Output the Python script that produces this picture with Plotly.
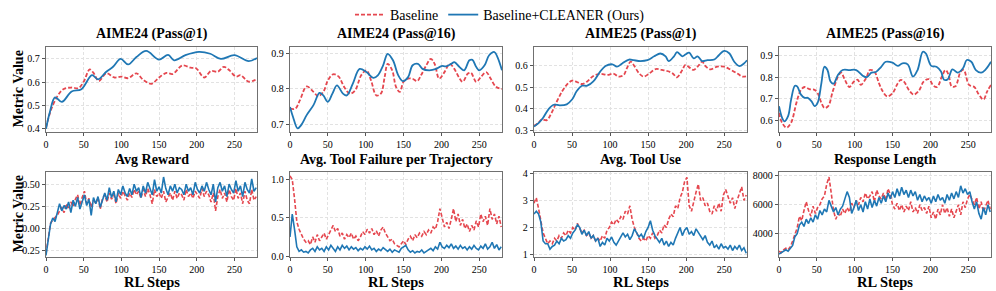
import plotly.graph_objects as go

# ---------------- DATA ----------------
# Top row: evaluation curves (smooth), (step, value) pairs
a24p1_base_x = [0, 6, 15, 23, 34, 43, 50, 58, 63, 70, 80, 91, 100, 109, 120, 129, 140, 150, 160, 168, 181, 192, 199, 210, 219, 228, 236, 243, 252, 258, 269, 280]
a24p1_base_y = [0.404, 0.475, 0.539, 0.57, 0.577, 0.574, 0.602, 0.655, 0.64, 0.605, 0.638, 0.62, 0.624, 0.617, 0.638, 0.61, 0.593, 0.62, 0.64, 0.635, 0.672, 0.662, 0.66, 0.62, 0.648, 0.645, 0.666, 0.652, 0.624, 0.63, 0.602, 0.614]
a24p1_ours_x = [0, 5, 12, 21, 34, 47, 61, 69, 80, 89, 99, 109, 120, 133, 150, 162, 170, 185, 203, 218, 232, 250, 269, 280]
a24p1_ours_y = [0.40, 0.47, 0.535, 0.515, 0.56, 0.57, 0.63, 0.612, 0.645, 0.666, 0.70, 0.676, 0.708, 0.734, 0.697, 0.717, 0.694, 0.716, 0.73, 0.722, 0.70, 0.716, 0.69, 0.704]

a24p16_base_x = [0, 7, 13, 22, 31, 37, 44, 50, 57, 64, 72, 79, 86, 94, 101, 107, 114, 120, 125, 129, 135, 140, 145, 150, 156, 162, 168, 173, 180, 186, 191, 197, 204, 211, 217, 223, 228, 235, 239, 246, 252, 259, 265, 272, 280]
a24p16_base_y = [0.745, 0.745, 0.768, 0.807, 0.792, 0.78, 0.792, 0.824, 0.841, 0.835, 0.804, 0.787, 0.796, 0.838, 0.852, 0.824, 0.782, 0.787, 0.833, 0.87, 0.852, 0.806, 0.792, 0.82, 0.829, 0.828, 0.822, 0.838, 0.866, 0.884, 0.87, 0.829, 0.847, 0.87, 0.856, 0.833, 0.82, 0.843, 0.845, 0.82, 0.833, 0.847, 0.829, 0.806, 0.80]
a24p16_ours_x = [0, 4, 10, 15, 22, 31, 39, 44, 50, 56, 62, 70, 75, 83, 92, 101, 110, 116, 123, 129, 136, 143, 149, 156, 162, 169, 175, 184, 193, 200, 206, 213, 217, 224, 230, 237, 241, 246, 250, 257, 263, 270, 274, 280]
a24p16_ours_y = [0.75, 0.722, 0.69, 0.70, 0.727, 0.755, 0.789, 0.782, 0.764, 0.787, 0.81, 0.787, 0.782, 0.815, 0.856, 0.847, 0.831, 0.838, 0.866, 0.898, 0.88, 0.838, 0.822, 0.833, 0.866, 0.87, 0.856, 0.852, 0.856, 0.864, 0.863, 0.87, 0.875, 0.861, 0.852, 0.88, 0.881, 0.861, 0.852, 0.866, 0.894, 0.903, 0.889, 0.852]

a25p1_base_x = [0, 6, 10, 17, 23, 30, 37, 43, 50, 56, 63, 70, 78, 87, 96, 105, 111, 118, 122, 127, 131, 138, 144, 151, 160, 168, 175, 182, 188, 195, 199, 206, 210, 217, 221, 226, 232, 241, 250, 259, 268, 274, 280]
a25p1_base_y = [0.32, 0.335, 0.35, 0.347, 0.38, 0.433, 0.48, 0.51, 0.529, 0.524, 0.514, 0.526, 0.551, 0.561, 0.556, 0.561, 0.548, 0.556, 0.586, 0.617, 0.602, 0.564, 0.548, 0.561, 0.583, 0.579, 0.574, 0.564, 0.545, 0.579, 0.602, 0.586, 0.579, 0.602, 0.617, 0.594, 0.582, 0.594, 0.594, 0.579, 0.561, 0.548, 0.551]
a25p1_ours_x = [0, 6, 12, 19, 26, 34, 43, 50, 56, 63, 70, 78, 87, 94, 103, 109, 116, 125, 131, 140, 149, 158, 166, 173, 177, 184, 188, 195, 199, 204, 210, 215, 221, 228, 237, 243, 250, 257, 263, 270, 276, 280]
a25p1_ours_y = [0.317, 0.333, 0.358, 0.397, 0.418, 0.415, 0.42, 0.442, 0.48, 0.506, 0.506, 0.526, 0.571, 0.597, 0.605, 0.594, 0.609, 0.627, 0.624, 0.62, 0.624, 0.642, 0.655, 0.642, 0.62, 0.642, 0.661, 0.642, 0.65, 0.659, 0.632, 0.642, 0.62, 0.624, 0.627, 0.647, 0.667, 0.655, 0.618, 0.597, 0.609, 0.624]

a25p16_base_x = [0, 4, 10, 16, 23, 29, 34, 40, 47, 51, 56, 60, 65, 71, 78, 82, 87, 93, 99, 104, 108, 115, 120, 126, 132, 137, 143, 150, 157, 161, 165, 172, 178, 185, 191, 198, 204, 209, 215, 220, 224, 228, 233, 240, 244, 251, 258, 264, 270, 275, 280]
a25p16_base_y = [0.636, 0.591, 0.568, 0.591, 0.682, 0.742, 0.755, 0.745, 0.742, 0.727, 0.682, 0.659, 0.667, 0.735, 0.803, 0.821, 0.788, 0.755, 0.78, 0.788, 0.765, 0.795, 0.833, 0.826, 0.773, 0.735, 0.712, 0.727, 0.773, 0.788, 0.78, 0.739, 0.72, 0.739, 0.78, 0.791, 0.761, 0.755, 0.803, 0.833, 0.811, 0.758, 0.758, 0.826, 0.833, 0.765, 0.755, 0.72, 0.697, 0.735, 0.765]
a25p16_ours_x = [0, 4, 7, 12, 16, 21, 24, 29, 34, 38, 43, 47, 51, 56, 60, 64, 68, 72, 78, 84, 93, 102, 111, 116, 122, 128, 135, 141, 150, 157, 163, 170, 177, 183, 190, 194, 201, 208, 214, 218, 223, 229, 236, 243, 248, 254, 260, 267, 273, 280]
a25p16_ours_y = [0.667, 0.614, 0.597, 0.621, 0.697, 0.761, 0.758, 0.72, 0.705, 0.705, 0.689, 0.667, 0.682, 0.773, 0.848, 0.833, 0.78, 0.77, 0.811, 0.833, 0.833, 0.833, 0.806, 0.80, 0.821, 0.824, 0.848, 0.871, 0.867, 0.852, 0.864, 0.859, 0.803, 0.833, 0.917, 0.909, 0.852, 0.848, 0.826, 0.788, 0.791, 0.836, 0.821, 0.841, 0.879, 0.871, 0.833, 0.821, 0.836, 0.871]

# Bottom row: training curves, one value every 3 RL steps (0, 3, ..., 279)
reward_base = [-0.28, -0.12, 0.06, 0.10, 0.12, 0.15, 0.20, 0.24, 0.18, 0.28, 0.22, 0.30, 0.25, 0.33, 0.38, 0.26, 0.35, 0.42, 0.28, 0.34,
               0.24, 0.32, 0.28, 0.35, 0.22, 0.34, 0.38, 0.30, 0.40, 0.33, 0.38, 0.28, 0.40, 0.34, 0.42, 0.36, 0.32, 0.40, 0.35, 0.44,
               0.38, 0.42, 0.34, 0.44, 0.36, 0.45, 0.38, 0.28, 0.44, 0.36, 0.40, 0.34, 0.42, 0.30, 0.36, 0.40, 0.32, 0.42, 0.34, 0.40,
               0.38, 0.32, 0.44, 0.36, 0.40, 0.34, 0.42, 0.38, 0.34, 0.45, 0.36, 0.42, 0.38, 0.30, 0.40, 0.20, 0.36, 0.44, 0.34, 0.40,
               0.30, 0.44, 0.36, 0.32, 0.45, 0.34, 0.40, 0.28, 0.42, 0.32, 0.28, 0.44, 0.32, 0.36]
reward_ours = [-0.30, -0.15, 0.05, 0.12, 0.08, 0.18, 0.28, 0.20, 0.26, 0.22, 0.30, 0.18, 0.32, 0.25, 0.35, 0.22, 0.30, 0.38, 0.26, 0.33,
               0.15, 0.35, 0.28, 0.36, 0.24, 0.33, 0.40, 0.32, 0.46, 0.35, 0.42, 0.30, 0.44, 0.38, 0.48, 0.40, 0.36, 0.45, 0.38, 0.50,
               0.42, 0.46, 0.35, 0.48, 0.40, 0.52, 0.44, 0.38, 0.55, 0.42, 0.47, 0.40, 0.58, 0.45, 0.38, 0.48, 0.42, 0.50, 0.40, 0.46,
               0.44, 0.38, 0.50, 0.42, 0.46, 0.38, 0.52, 0.44, 0.40, 0.48, 0.42, 0.52, 0.44, 0.38, 0.50, 0.30, 0.46, 0.52, 0.42, 0.48,
               0.36, 0.50, 0.44, 0.40, 0.54, 0.42, 0.48, 0.36, 0.52, 0.44, 0.40, 0.56, 0.42, 0.46]

fail_base = [1.05, 1.00, 0.75, 0.45, 0.35, 0.28, 0.22, 0.18, 0.20, 0.15, 0.25, 0.18, 0.28, 0.20, 0.26, 0.30, 0.22, 0.28, 0.34, 0.40,
             0.32, 0.36, 0.26, 0.30, 0.22, 0.28, 0.24, 0.30, 0.22, 0.26, 0.20, 0.25, 0.32, 0.28, 0.35, 0.30, 0.36, 0.28, 0.33, 0.26,
             0.34, 0.38, 0.30, 0.25, 0.20, 0.22, 0.16, 0.14, 0.12, 0.16, 0.20, 0.15, 0.22, 0.26, 0.20, 0.28, 0.24, 0.30, 0.26, 0.32,
             0.28, 0.34, 0.30, 0.38, 0.35, 0.45, 0.62, 0.50, 0.38, 0.44, 0.36, 0.48, 0.62, 0.45, 0.55, 0.40, 0.48, 0.36, 0.42, 0.32,
             0.40, 0.34, 0.46, 0.38, 0.55, 0.45, 0.52, 0.40, 0.62, 0.48, 0.55, 0.42, 0.52, 0.38]
fail_ours = [0.25, 0.55, 0.35, 0.12, 0.06, 0.08, 0.05, 0.06, 0.04, 0.08, 0.10, 0.06, 0.12, 0.08, 0.10, 0.06, 0.12, 0.08, 0.14, 0.10,
             0.06, 0.12, 0.08, 0.14, 0.10, 0.13, 0.08, 0.12, 0.09, 0.11, 0.07, 0.10, 0.08, 0.12, 0.09, 0.13, 0.08, 0.10, 0.06, 0.09,
             0.07, 0.11, 0.08, 0.06, 0.09, 0.05, 0.08, 0.06, 0.05, 0.10, 0.12, 0.14, 0.08, 0.05, 0.07, 0.04, 0.06, 0.05, 0.08, 0.04,
             0.06, 0.08, 0.10, 0.07, 0.12, 0.09, 0.18, 0.12, 0.10, 0.14, 0.11, 0.16, 0.10, 0.13, 0.09, 0.14, 0.10, 0.12, 0.08, 0.12,
             0.09, 0.14, 0.10, 0.08, 0.13, 0.10, 0.16, 0.09, 0.12, 0.18, 0.10, 0.15, 0.08, 0.12]

tool_base = [2.9, 3.1, 2.7, 2.2, 1.8, 1.6, 1.4, 1.5, 1.4, 1.6, 1.5, 1.7, 1.6, 1.8, 1.7, 1.9, 1.8, 2.0, 1.9, 2.15,
             2.0, 1.8, 1.9, 1.7, 1.8, 1.6, 1.7, 1.5, 1.6, 1.5, 1.7, 1.6, 1.9, 2.0, 2.2, 2.1, 2.3, 2.2, 2.4, 2.3,
             2.6, 2.5, 2.8, 2.3, 2.0, 1.8, 1.6, 1.5, 1.6, 1.5, 1.7, 1.6, 1.8, 1.6, 1.7, 1.9, 1.8, 2.1, 2.0, 2.3,
             2.5, 2.4, 2.8, 2.7, 3.1, 3.3, 3.7, 3.85, 2.8, 2.6, 3.0, 3.3, 3.6, 3.0, 3.1, 2.8, 2.9, 2.6, 2.5, 2.8,
             2.6, 2.9, 2.6, 3.2, 3.4, 3.1, 2.9, 3.1, 2.7, 3.0, 3.3, 3.5, 3.0, 3.2]
tool_ours = [2.5, 2.6, 2.5, 2.2, 1.5, 1.4, 1.4, 1.2, 1.3, 1.35, 1.5, 1.4, 1.6, 1.5, 1.55, 1.7, 1.6, 1.8, 1.9, 2.1,
             2.0, 1.75, 1.9, 1.7, 1.85, 1.6, 1.7, 1.5, 1.6, 1.3, 1.45, 1.35, 1.6, 1.5, 1.65, 1.45, 1.35, 1.5, 1.6, 1.8,
             1.65, 1.75, 1.55, 1.7, 1.95, 1.8, 1.65, 1.75, 1.6, 1.85, 2.0, 2.25, 1.9, 1.7, 1.55, 1.45, 1.6, 1.35, 1.5, 1.3,
             1.45, 1.35, 1.6, 1.8, 2.0, 1.7, 1.9, 2.0, 1.75, 1.85, 1.7, 1.95, 1.8, 1.65, 1.55, 1.7, 1.45, 1.35, 1.5, 1.25,
             1.35, 1.2, 1.4, 1.25, 1.3, 1.2, 1.35, 1.15, 1.3, 1.2, 1.35, 1.15, 1.25, 1.05]

resp_base = [2800, 2700, 2900, 3000, 2900, 3100, 3500, 3900, 4400, 5200, 4900, 5600, 6200, 5600, 5200, 5900, 5400, 5800, 6000, 6400,
             6600, 7400, 7900, 6800, 5600, 5000, 5400, 5200, 5700, 5400, 5800, 5500, 6100, 5800, 6300, 6000, 6500, 6200, 6800, 6400,
             6600, 6900, 6200, 7000, 6600, 6400, 6800, 6300, 7100, 6700, 6000, 5700, 6100, 5600, 6000, 5500, 5900, 5600, 6200, 5500,
             5800, 5400, 6000, 5600, 5800, 5400, 5900, 5100, 5500, 5000, 5700, 5300, 6000, 5400, 5800, 5200, 5700, 5100, 5500, 6000,
             5300, 6200, 5800, 6400, 6700, 6300, 6000, 6500, 5700, 6200, 5500, 5900, 6300, 5700]
resp_ours = [2600, 2700, 2800, 2900, 2800, 3000, 3200, 3800, 4000, 4600, 4800, 4500, 5000, 4700, 5100, 4800, 5300, 5000, 5600, 5300,
             5700, 5500, 6300, 5900, 5500, 5800, 5300, 5700, 5900, 6400, 6900, 6500, 5400, 5800, 6300, 5600, 6000, 5500, 6200, 5700,
             6400, 5800, 6300, 5900, 6500, 6100, 6600, 6200, 6800, 6400, 6900, 6500, 7100, 6600, 7200, 6700, 7000, 6500, 7000, 6600,
             6900, 6300, 6700, 6200, 6600, 6300, 6500, 6100, 6600, 6200, 6700, 6300, 6500, 6100, 6700, 6300, 6800, 6400, 6900, 6500,
             7300, 6800, 7100, 6700, 6900, 6200, 5700, 6200, 5400, 5000, 5800, 5300, 6000, 5500]

titles = ["AIME24 (Pass@1)", "AIME24 (Pass@16)", "AIME25 (Pass@1)", "AIME25 (Pass@16)",
          "Avg Reward", "Avg. Tool Failure per Trajectory", "Avg. Tool Use", "Response Length"]
x_ticks = [0, 50, 100, 150, 200, 250]

# ---------------- FIGURE ----------------
W, H = 996, 291
RED = "#e5474f"
BLUE = "#1f77b4"
FONT = "'Liberation Serif', 'Times New Roman', Times, serif"

col_px = [(46, 257), (290, 502), (534, 747), (779, 991)]
row_px = [(47, 132), (172, 257)]

fig = go.Figure()

top = [(a24p1_base_x, a24p1_base_y, a24p1_ours_x, a24p1_ours_y),
       (a24p16_base_x, a24p16_base_y, a24p16_ours_x, a24p16_ours_y),
       (a25p1_base_x, a25p1_base_y, a25p1_ours_x, a25p1_ours_y),
       (a25p16_base_x, a25p16_base_y, a25p16_ours_x, a25p16_ours_y)]
bottom = [(reward_base, reward_ours), (fail_base, fail_ours),
          (tool_base, tool_ours), (resp_base, resp_ours)]

y_ranges = [[0.386, 0.751], [0.68, 0.917], [0.292, 0.685], [0.548, 0.939],
            [-0.318, 0.636], [-0.013, 1.10], [0.91, 4.05], [2400, 8250]]
y_ticks = [[0.4, 0.5, 0.6, 0.7], [0.7, 0.8, 0.9], [0.3, 0.4, 0.5, 0.6], [0.6, 0.7, 0.8, 0.9],
           [-0.25, 0.0, 0.25, 0.5], [0.0, 0.5, 1.0], [1, 2, 3, 4], [4000, 6000, 8000]]
y_fmt = [".1f", ".1f", ".1f", ".1f", ".2f", ".1f", "d", "d"]

for i in range(8):
    r, c = divmod(i, 4)
    ax = "" if i == 0 else str(i + 1)
    xa, ya = "x" + ax, "y" + ax
    if r == 0:
        bx, by, ox, oy = top[c]
        shape, smooth, lw = "spline", 1.0, 1.8
    else:
        by, oy = bottom[c]
        bx = list(range(0, 3 * len(by), 3))
        ox = list(range(0, 3 * len(oy), 3))
        shape, smooth, lw = "linear", None, 1.6
    base_line = dict(color=RED, width=lw, dash="4px,2px", shape=shape)
    ours_line = dict(color=BLUE, width=lw, shape=shape)
    if smooth:
        base_line["smoothing"] = smooth
        ours_line["smoothing"] = smooth
    fig.add_trace(go.Scatter(x=bx, y=by, mode="lines", line=base_line, name="Baseline",
                             showlegend=(i == 0), xaxis=xa, yaxis=ya))
    fig.add_trace(go.Scatter(x=ox, y=oy, mode="lines", line=ours_line, name="Baseline+CLEANER (Ours)",
                             showlegend=(i == 0), xaxis=xa, yaxis=ya))

    x0, x1 = col_px[c]
    y0, y1 = row_px[r]
    common = dict(showline=True, mirror=True, linecolor="#707070", linewidth=1.4,
                  showgrid=True, gridcolor="#e2e2e2", griddash="3px,2px", gridwidth=0.8,
                  ticks="outside", ticklen=3, tickcolor="#555555", tickwidth=1,
                  tickfont=dict(family=FONT, size=10, color="black"), zeroline=False,
                  automargin=False)
    fig.layout["xaxis" + ax] = dict(domain=[x0 / W, x1 / W], range=[0, 280], anchor=ya,
                                    tickvals=x_ticks, **common)
    fig.layout["yaxis" + ax] = dict(domain=[1 - y1 / H, 1 - y0 / H], range=y_ranges[i], anchor=xa,
                                    tickvals=y_ticks[i], tickformat=y_fmt[i], **common)
    # subplot title
    fig.add_annotation(text="<b>" + titles[i] + "</b>", x=(x0 + x1) / 2 / W, y=1 - (y0 - 3) / H,
                       xref="paper", yref="paper", xanchor="center", yanchor="bottom", showarrow=False,
                       font=dict(family=FONT, size=14, color="black"))
    if r == 1:
        fig.add_annotation(text="<b>RL Steps</b>", x=(x0 + x1) / 2 / W, y=1 - 282 / H,
                           xref="paper", yref="paper", xanchor="center", yanchor="middle", showarrow=False,
                           font=dict(family=FONT, size=14.5, color="black"))

for r in range(2):
    y0, y1 = row_px[r]
    fig.add_annotation(text="<b>Metric Value</b>", x=18 / W, y=1 - (y0 + y1) / 2 / H,
                       xref="paper", yref="paper", xanchor="center", yanchor="middle", showarrow=False,
                       textangle=-90, font=dict(family=FONT, size=14, color="black"))

fig.update_layout(
    template=None,
    width=W, height=H, margin=dict(l=0, r=0, t=0, b=0, autoexpand=False),
    paper_bgcolor="white", plot_bgcolor="white",
    font=dict(family=FONT, color="black"),
    legend=dict(orientation="h", x=0.502, xanchor="center", y=1 - 15 / H, yanchor="middle",
                font=dict(family=FONT, size=14, color="black"), bgcolor="rgba(0,0,0,0)",
                itemwidth=30, tracegroupgap=0),
)

fig.write_html("out.html", config={"displayModeBar": False},
               post_script="document.body.style.margin='0';document.body.style.overflow='hidden';")
